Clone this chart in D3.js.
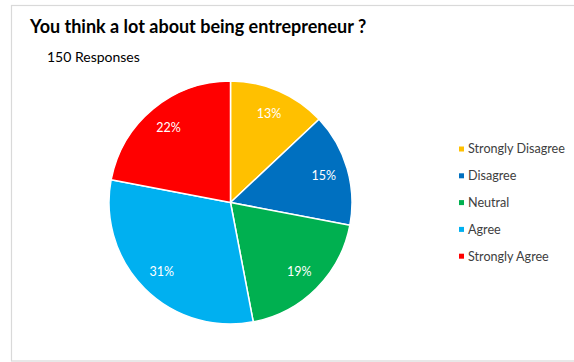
<!DOCTYPE html>
<html>
<head>
<meta charset="utf-8">
<script src="https://cdn.jsdelivr.net/npm/d3@7"></script>
<style>
  html, body { margin: 0; padding: 0; background: #fff; }
  svg { display: block; }
  text { font-family: Lato, "Open Sans", sans-serif; }
</style>
</head>
<body>
<svg id="chart" width="574" height="362"></svg>
<script>
// Survey answers, share of 150 responses (percent)
const categories = ["Strongly Disagree", "Disagree", "Neutral", "Agree", "Strongly Agree"];
const percents = [13, 15, 19, 31, 22];
const colors = ["#FFC000", "#0070C0", "#00B050", "#00B0F0", "#FF0000"];

const titleText = "You think a lot about being entrepreneur ?";
const subtitleText = "150 Responses";

const svg = d3.select("#chart");

// Chart frame
svg.append("rect")
  .attr("x", 11.5).attr("y", 5.5)
  .attr("width", 580).attr("height", 355.5)
  .attr("fill", "#fff")
  .attr("stroke", "#d9d9d9")
  .attr("stroke-width", 1.2);

svg.append("text")
  .attr("x", 30).attr("y", 33)
  .attr("font-size", 18)
  .attr("font-weight", 700)
  .attr("fill", "#000")
  .text(titleText);

svg.append("text")
  .attr("x", 47).attr("y", 62)
  .attr("font-size", 14)
  .attr("fill", "#000")
  .text(subtitleText);

// Pie
const cx = 230.5, cy = 202.5, radius = 121.5;
const pie = d3.pie().sort(null).value(d => d);
const arcs = pie(percents);
const arc = d3.arc().innerRadius(0).outerRadius(radius);
const labelArc = d3.arc().innerRadius(radius * 0.8).outerRadius(radius * 0.8);

const g = svg.append("g").attr("transform", `translate(${cx},${cy})`);

g.selectAll("path.slice")
  .data(arcs)
  .join("path")
  .attr("class", "slice")
  .attr("d", arc)
  .attr("fill", (d, i) => colors[i])
  .attr("stroke", "#fff")
  .attr("stroke-width", 1.5)
  .attr("stroke-linejoin", "round");

g.selectAll("text.pct")
  .data(arcs)
  .join("text")
  .attr("class", "pct")
  .attr("transform", d => `translate(${labelArc.centroid(d)})`)
  .attr("text-anchor", "middle")
  .attr("dy", "0.35em")
  .attr("font-size", 12.5)
  .attr("fill", "#fff")
  .text(d => d.data + "%");

// Legend
const legend = svg.append("g").attr("transform", "translate(459,149)");
const rowH = 26.8;
const item = legend.selectAll("g.item")
  .data(categories)
  .join("g")
  .attr("class", "item")
  .attr("transform", (d, i) => `translate(0,${i * rowH})`);

item.append("rect")
  .attr("x", 0).attr("y", -2.5)
  .attr("width", 5).attr("height", 5)
  .attr("fill", (d, i) => colors[i]);

item.append("text")
  .attr("x", 9).attr("y", 0)
  .attr("dy", "0.35em")
  .attr("font-size", 12.6)
  .attr("fill", "#404040")
  .text(d => d);
</script>
</body>
</html>
